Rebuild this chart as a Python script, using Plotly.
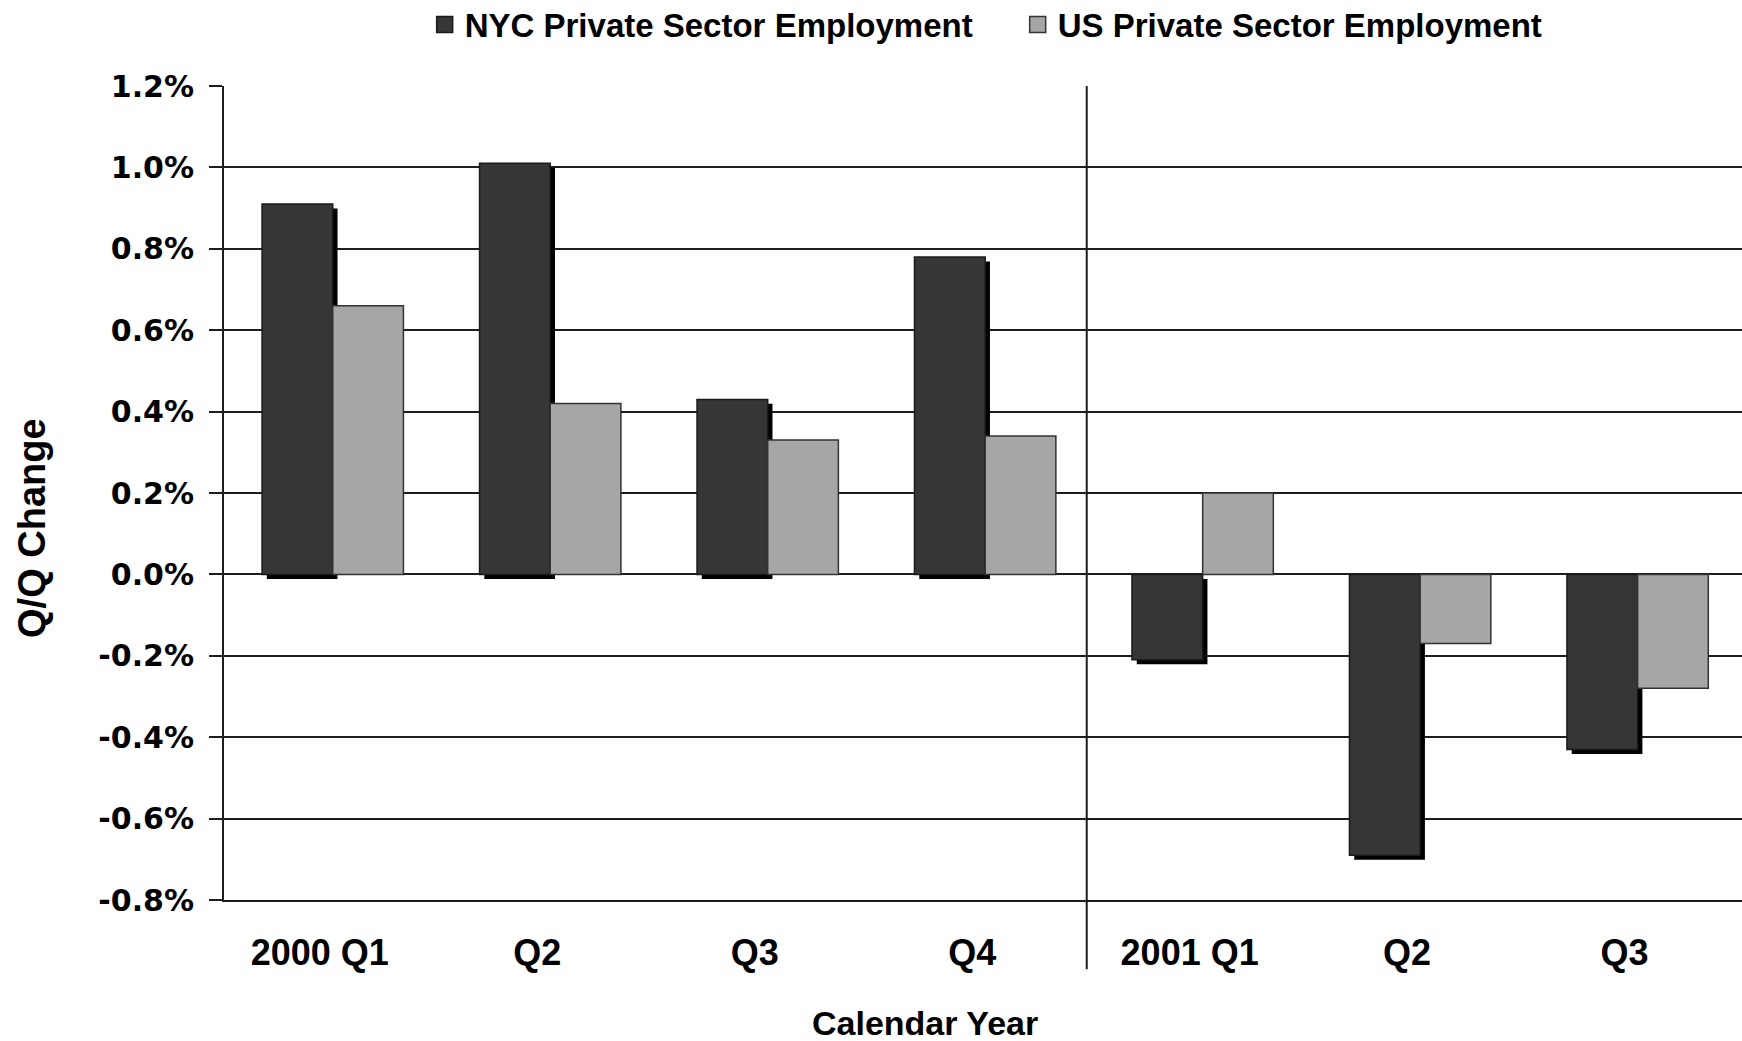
import plotly.graph_objects as go

# ---- data ----
quarters = ["2000 Q1", "Q2", "Q3", "Q4", "2001 Q1", "Q2", "Q3"]
nyc_change = [0.91, 1.01, 0.43, 0.78, -0.21, -0.69, -0.43]
us_change = [0.66, 0.42, 0.33, 0.34, 0.20, -0.17, -0.28]
y_tick_vals = [-0.8, -0.6, -0.4, -0.2, 0.0, 0.2, 0.4, 0.6, 0.8, 1.0, 1.2]
y_tick_text = ["-0.8%", "-0.6%", "-0.4%", "-0.2%", "0.0%", "0.2%", "0.4%",
               "0.6%", "0.8%", "1.0%", "1.2%"]
series_names = ["NYC Private Sector Employment", "US Private Sector Employment"]

x_pos = list(range(len(quarters)))

SANS = "Liberation Sans, Arial, sans-serif"
DARK = "#363636"
LIGHT = "#a6a6a6"
LINE = "#1e1e1e"
BW = 0.325

fig = go.Figure()

# shadow for NYC bars
fig.add_trace(go.Bar(
    x=x_pos, y=nyc_change, base=-0.011, offset=-BW + 0.022, width=BW,
    marker=dict(color="#000000", line=dict(width=0)),
    showlegend=False, hoverinfo="skip"))

fig.add_trace(go.Bar(
    x=x_pos, y=nyc_change, offset=-BW, width=BW, name=series_names[0],
    marker=dict(color=DARK, line=dict(color="#1a1a1a", width=1.5)),
    showlegend=False))

fig.add_trace(go.Bar(
    x=x_pos, y=us_change, offset=0, width=BW, name=series_names[1],
    marker=dict(color=LIGHT, line=dict(color="#333333", width=1.5)),
    showlegend=False))

# legend proxies
for nm, col, lc in [(series_names[0], DARK, "#1a1a1a"), (series_names[1], LIGHT, "#333333")]:
    fig.add_trace(go.Scatter(
        x=[None], y=[None], mode="markers", name=nm,
        marker=dict(symbol="square", size=16, color=col, line=dict(color=lc, width=1.5))))

fig.update_layout(
    width=1742, height=1041,
    margin=dict(l=224, r=0, t=86, b=141, autoexpand=False),
    paper_bgcolor="white", plot_bgcolor="white",
    barmode="overlay",
    font=dict(family=SANS, color="black"),
    legend=dict(
        orientation="h", x=0.1322, xanchor="left", y=1.0755, yanchor="middle",
        font=dict(family=SANS, size=33, color="black", weight="bold"),
        entrywidth=548, entrywidthmode="pixels",
        itemwidth=30, bgcolor="rgba(0,0,0,0)"),
    xaxis=dict(
        range=[-0.5, 6.48], tickvals=x_pos, ticktext=quarters,
        showgrid=False, zeroline=False, showline=True, linecolor=LINE, linewidth=2,
        ticks="", ticklabelstandoff=20, ticklabelshift=-13,
        tickfont=dict(family=SANS, size=36, color="black", weight="bold")),
    yaxis=dict(
        range=[-0.8, 1.2], tickvals=y_tick_vals, ticktext=y_tick_text,
        showgrid=True, gridcolor=LINE, gridwidth=2,
        zeroline=True, zerolinecolor=LINE, zerolinewidth=2,
        showline=True, linecolor=LINE, linewidth=2,
        ticks="outside", ticklen=13, tickwidth=2, tickcolor=LINE,
        ticklabelstandoff=9,
        tickfont=dict(family="DejaVu Sans", size=30, color="black", weight="bold")),
    shapes=[dict(type="line", xref="x", yref="paper", x0=3.467, x1=3.467,
                 y0=-0.085, y1=1, line=dict(color=LINE, width=2))],
    annotations=[
        dict(text="Q/Q Change", xref="paper", yref="paper", x=-0.126, y=0.4567,
             xanchor="center", yanchor="middle", textangle=-90, showarrow=False,
             font=dict(family=SANS, size=38, color="black", weight="bold")),
        dict(text="Calendar Year", xref="paper", yref="paper", x=0.4617, y=-0.151,
             xanchor="center", yanchor="middle", showarrow=False,
             font=dict(family=SANS, size=34, color="black", weight="bold")),
    ],
)

fig.write_html("out.html")
